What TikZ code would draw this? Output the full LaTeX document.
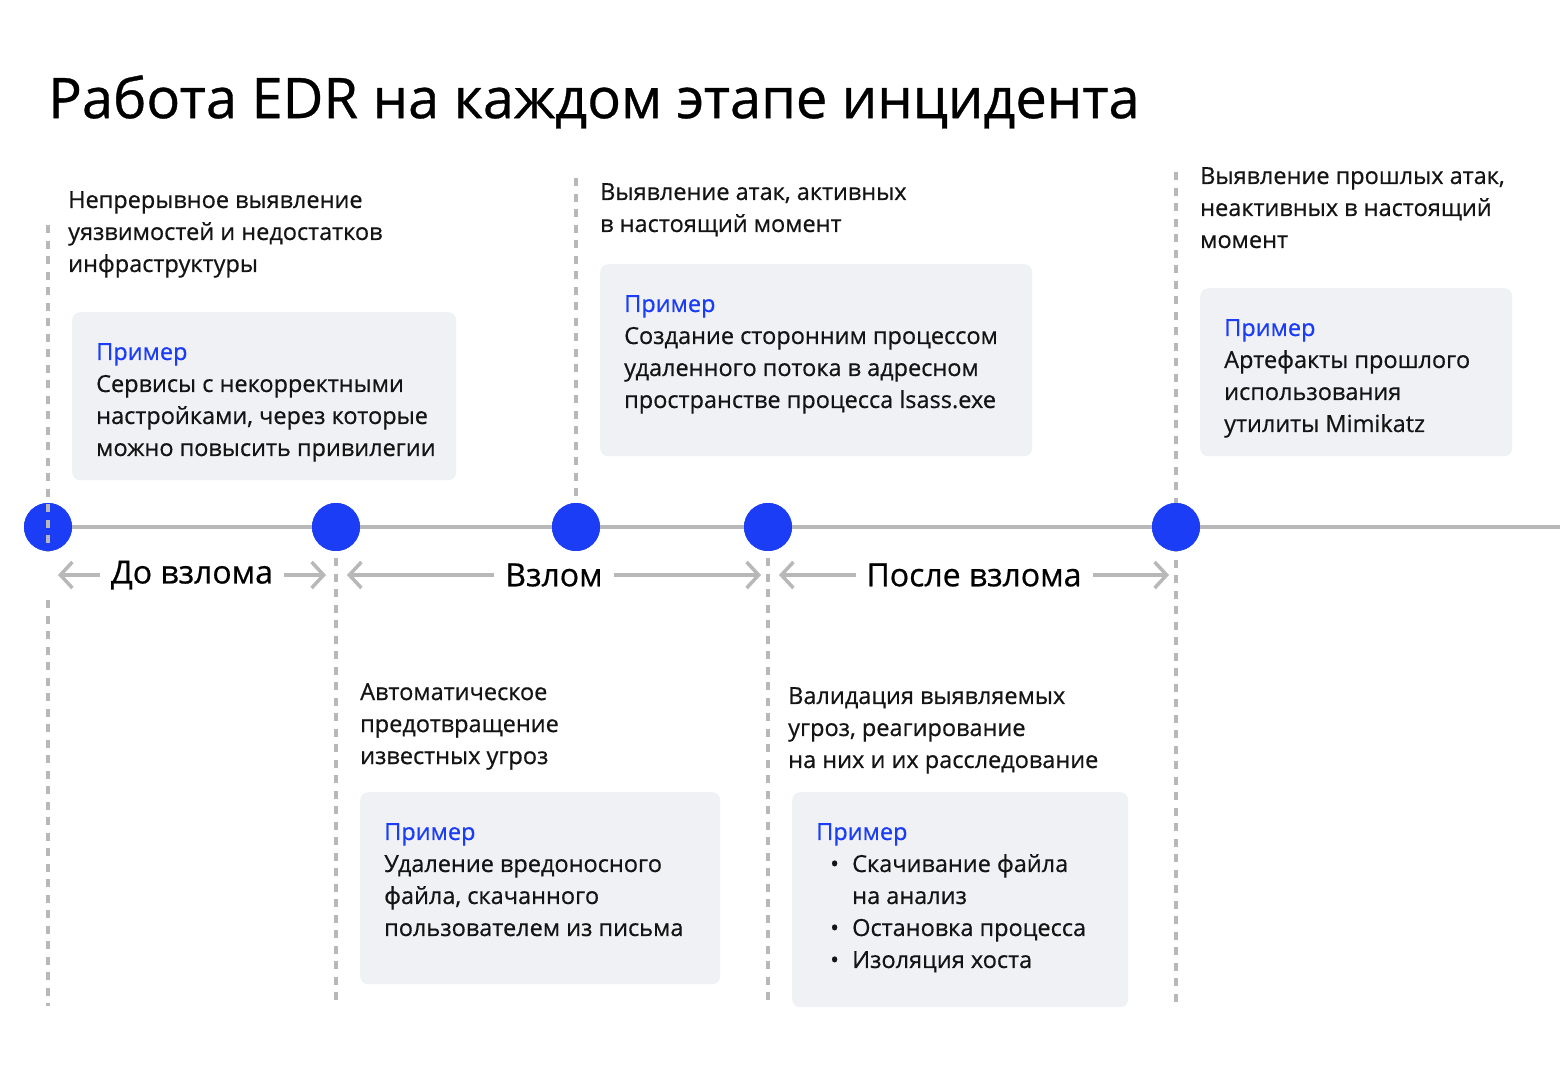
\documentclass[tikz,border=0pt]{standalone}
\usepackage{fontspec}
\setmainfont{Open Sans}
\newfontfamily\edrfont{Open Sans}[FakeBold=0.6]
\usetikzlibrary{arrows.meta}
\definecolor{edrblue}{HTML}{1A3DF5}
\definecolor{guidegray}{HTML}{B8B8B8}
\definecolor{boxgray}{HTML}{F0F1F5}
\definecolor{inkblack}{HTML}{141414}
\newcommand{\ex}{\textcolor{edrblue}{Пример}}
\newcommand{\bul}[1]{\hspace*{14pt}\makebox[22pt][l]{\textbullet}#1}
\newcommand{\ind}[1]{\hspace*{36pt}#1}

\begin{document}
\begin{tikzpicture}[x=1pt, y=-1pt,
    dot/.style={circle, fill=edrblue, minimum size=48pt, inner sep=0pt},
    guide/.style={draw=guidegray, line width=3.5pt, dash pattern=on 8pt off 7.5pt},
    axis/.style={draw=guidegray, line width=4pt},
    span/.style={draw=guidegray, line width=3.5pt,
       {Straight Barb[length=12pt, width=26pt]}-{Straight Barb[length=12pt, width=26pt]}},
    spanlabel/.style={fill=white, inner xsep=11pt, inner ysep=2pt, text=black,
       font=\edrfont\fontsize{32}{36}\selectfont},
    desc/.style={anchor=north west, align=left, inner sep=0pt, text=inkblack,
       font=\edrfont\fontsize{23.5}{32}\selectfont},
    example/.style={anchor=north west, fill=boxgray, rounded corners=8pt, inner sep=0pt}]
  \useasboundingbox[fill=white] (0,0) rectangle (1560,1080);

  \node (title) at (48,75) [anchor=north west, inner sep=0pt, text=black,
     font=\edrfont\fontsize{56}{60}\selectfont] {Работа EDR на каждом этапе инцидента};

  % timeline
  \node (t1) at (48,527)   [dot] {};
  \node (t2) at (336,527)  [dot] {};
  \node (t3) at (576,527)  [dot] {};
  \node (t4) at (768,527)  [dot] {};
  \node (t5) at (1176,527) [dot] {};
  \coordinate (axisend) at (1560,527);

  \coordinate (g1a) at (48,225);   \coordinate (g1b) at (48,552);
  \coordinate (g1c) at (48,600);   \coordinate (g1d) at (48,1006);
  \coordinate (g2d) at (336,1006);
  \coordinate (g3a) at (576,178);
  \coordinate (g4d) at (768,1006);
  \coordinate (g5a) at (1176,172); \coordinate (g5d) at (1176,1006);

  \draw[guide] (t2.center) -- (g2d);
  \draw[guide] (g3a) -- (t3.center);
  \draw[guide] (t4.center) -- (g4d);
  \draw[guide] (g5a) -- (g5d);
  \draw[guide] (g1c) -- (g1d);
  \draw[axis] (t1.center) -- (axisend);
  \node at (t1) [dot] {};  \node at (t2) [dot] {};  \node at (t3) [dot] {};
  \node at (t4) [dot] {};  \node at (t5) [dot] {};
  \draw[guide] (g1a) -- (g1b);

  \draw[span] ([xshift=10pt,yshift=-48pt]t1.center) -- node[spanlabel] {До взлома}
     ([xshift=-10pt,yshift=-48pt]t2.center);
  \draw[span] ([xshift=11pt,yshift=-48pt]t2.center) -- node[spanlabel] {Взлом}
     ([xshift=-7pt,yshift=-48pt]t4.center);
  \draw[span] ([xshift=11pt,yshift=-48pt]t4.center) -- node[spanlabel] {После взлома}
     ([xshift=-7pt,yshift=-48pt]t5.center);

  % before the breach
  \node (d1) at (68,191) [desc] {Непрерывное выявление\\уязвимостей и недостатков\\инфраструктуры};
  \node (e1) at (72,312) [example, minimum width=384pt, minimum height=168pt] {};
  \node (x1) at ([xshift=24pt,yshift=-31pt]e1.north west) [desc]
     {\ex\\Сервисы с некорректными\\настройками, через которые\\можно повысить привилегии};

  % breach
  \node (d2) at (600,183) [desc] {Выявление атак, активных\\в настоящий момент};
  \node (e2) at (600,264) [example, minimum width=432pt, minimum height=192pt] {};
  \node (x2) at ([xshift=24pt,yshift=-31pt]e2.north west) [desc]
     {\ex\\Создание сторонним процессом\\удаленного потока в адресном\\пространстве процесса lsass.exe};
  \node (d4) at (360,683) [desc] {Автоматическое\\предотвращение\\известных угроз};
  \node (e4) at (360,792) [example, minimum width=360pt, minimum height=192pt] {};
  \node (x4) at ([xshift=24pt,yshift=-31pt]e4.north west) [desc]
     {\ex\\Удаление вредоносного\\файла, скачанного\\пользователем из письма};

  % after the breach
  \node (d3) at (1200,167) [desc] {Выявление прошлых атак,\\неактивных в настоящий\\момент};
  \node (e3) at (1200,288) [example, minimum width=312pt, minimum height=168pt] {};
  \node (x3) at ([xshift=24pt,yshift=-31pt]e3.north west) [desc]
     {\ex\\Артефакты прошлого\\использования\\утилиты Mimikatz};
  \node (d5) at (788,687) [desc] {Валидация выявляемых\\угроз, реагирование\\на них и их расследование};
  \node (e5) at (792,792) [example, minimum width=336pt, minimum height=215pt] {};
  \node (x5) at ([xshift=24pt,yshift=-31pt]e5.north west) [desc]
     {\ex\\\bul{Скачивание файла}\\\ind{на анализ}\\\bul{Остановка процесса}\\\bul{Изоляция хоста}};
\end{tikzpicture}
\end{document}
